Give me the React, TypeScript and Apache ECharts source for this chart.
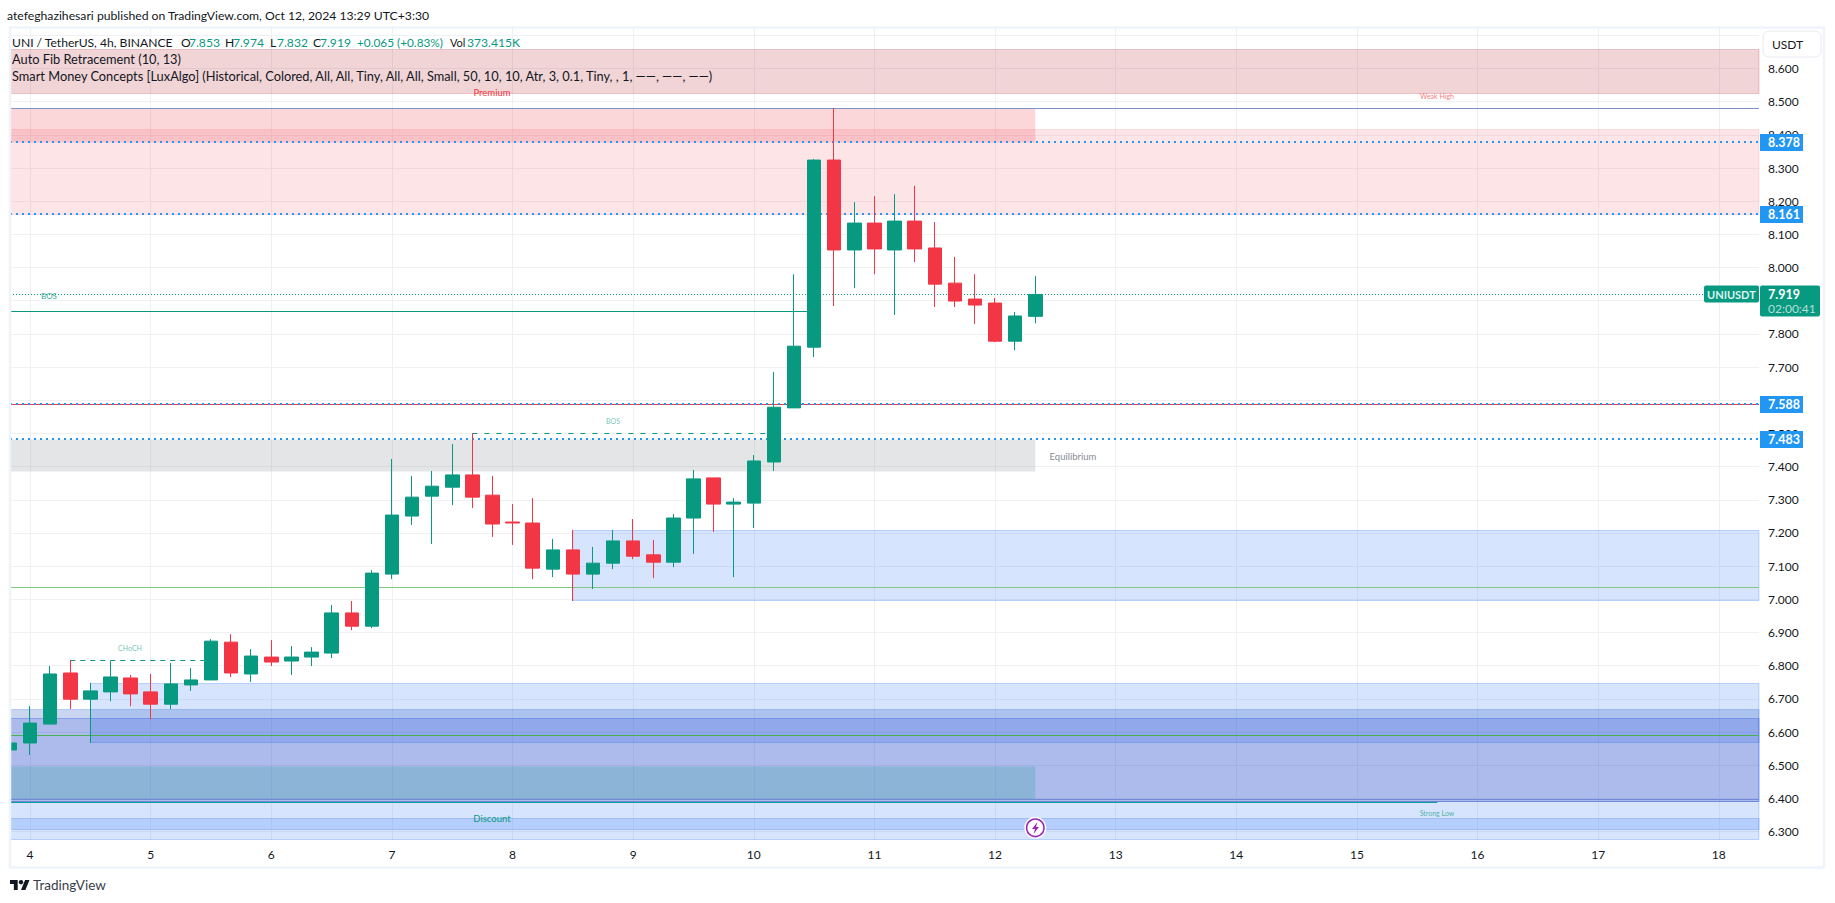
import React, { useEffect, useRef } from "react";
import * as echarts from "echarts";

const dayLabels = ["4", "5", "6", "7", "8", "9", "10", "11", "12", "13", "14", "15", "16", "17", "18"];
const hourLabels = ["04:00", "08:00", "12:00", "16:00", "20:00"];

// open, close, low, high
const candles: number[][] = [
  [6.546, 6.567, 6.475, 6.599],
  [6.567, 6.627, 6.531, 6.678],
  [6.624, 6.775, 6.624, 6.799],
  [6.778, 6.699, 6.669, 6.817],
  [6.699, 6.724, 6.567, 6.748],
  [6.721, 6.766, 6.693, 6.814],
  [6.763, 6.715, 6.678, 6.772],
  [6.721, 6.684, 6.639, 6.775],
  [6.684, 6.745, 6.669, 6.808],
  [6.742, 6.757, 6.724, 6.793],
  [6.757, 6.874, 6.757, 6.88],
  [6.871, 6.778, 6.766, 6.895],
  [6.775, 6.829, 6.751, 6.85],
  [6.826, 6.811, 6.799, 6.877],
  [6.814, 6.826, 6.772, 6.859],
  [6.826, 6.841, 6.799, 6.856],
  [6.838, 6.959, 6.823, 6.983],
  [6.959, 6.919, 6.907, 6.995],
  [6.919, 7.079, 6.913, 7.088],
  [7.076, 7.254, 7.061, 7.423],
  [7.251, 7.308, 7.224, 7.372],
  [7.311, 7.341, 7.167, 7.387],
  [7.338, 7.375, 7.284, 7.468],
  [7.375, 7.308, 7.275, 7.501],
  [7.314, 7.227, 7.188, 7.372],
  [7.233, 7.23, 7.164, 7.287],
  [7.23, 7.094, 7.061, 7.305],
  [7.091, 7.149, 7.067, 7.182],
  [7.149, 7.076, 6.995, 7.209],
  [7.076, 7.109, 7.031, 7.158],
  [7.109, 7.176, 7.091, 7.209],
  [7.176, 7.13, 7.121, 7.242],
  [7.134, 7.112, 7.064, 7.179],
  [7.112, 7.245, 7.097, 7.257],
  [7.245, 7.363, 7.137, 7.39],
  [7.366, 7.287, 7.203, 7.366],
  [7.287, 7.293, 7.067, 7.305],
  [7.29, 7.417, 7.215, 7.435],
  [7.414, 7.579, 7.387, 7.685],
  [7.577, 7.763, 7.577, 7.98],
  [7.76, 8.324, 7.73, 8.327],
  [8.324, 8.053, 7.884, 8.481],
  [8.053, 8.134, 7.938, 8.197],
  [8.134, 8.056, 7.98, 8.215],
  [8.053, 8.14, 7.857, 8.221],
  [8.14, 8.056, 8.017, 8.246],
  [8.059, 7.95, 7.881, 8.137],
  [7.953, 7.899, 7.881, 8.032],
  [7.905, 7.887, 7.83, 7.98],
  [7.893, 7.778, 7.775, 7.908],
  [7.778, 7.854, 7.751, 7.866],
  [7.853, 7.919, 7.832, 7.974],
];

const priceTicks = [6.3, 6.4, 6.5, 6.6, 6.7, 6.8, 6.9, 7.0, 7.1, 7.2, 7.3, 7.4, 7.5, 7.6, 7.7, 7.8, 7.9, 8.0, 8.1, 8.2, 8.3, 8.4, 8.5, 8.6, 8.7];
// 7.600, 7.900 and 8.700 sit fully behind the price tags and the USDT button in the reference
const priceLabels = [6.3, 6.4, 6.5, 6.6, 6.7, 6.8, 6.9, 7.0, 7.1, 7.2, 7.3, 7.4, 7.5, 7.7, 7.8, 8.0, 8.1, 8.2, 8.3, 8.4, 8.5, 8.6];

// start bar, end bar, high price, low price
const premiumZone = [0, 87, 8.658, 8.525];
const weakHighBlock = [0, 51, 8.479, 8.378];
const supplyZone = [0, 87, 8.417, 8.161];
const equilibriumZone = [0, 51, 7.483, 7.385];
const demandBlockA = [28, 87, 7.208, 6.995];
const demandBlockB = [4, 87, 6.747, 6.568];
const discountBlock = [0, 87, 6.668, 6.275];
const greyStrip = [0, 87, 6.668, 6.641];
const navyBlock = [0, 87, 6.641, 6.39];
const tealBlock = [0, 51, 6.495, 6.397];
const lowerBand = [0, 87, 6.34, 6.305];

const fibLevels = [8.378, 8.161, 7.588, 7.483];
const redLevel = 7.587;
const lastPrice = 7.919;
const strongHigh = 8.479;
const greenLevels = [7.036, 6.59];
const navyLevels = [6.397, 6.39];
const bosFirst = [0, 40, 7.869];
const bosSecond = [23, 38, 7.501];
const chochLine = [3, 10, 6.817];
const strongLow = [0, 71, 6.388];

const UP = "#089981";
const DOWN = "#f23645";
const BLUE = "rgba(49,121,245,0.2)";
const BLUE_EDGE = "rgba(49,121,245,0.28)";
const FONT = "Lato, 'Noto Sans', sans-serif";
const Y_MIN = 6.2746;
const Y_MAX = 8.722;
const GRID_TOP = 28;
const GRID_H = 812;
const LEGEND = 12.8;
const OHLC = 12.1;

const categories: string[] = (() => {
  const list = ["3 20:00"];
  dayLabels.forEach((d) => {
    list.push(d);
    hourLabels.forEach((h) => list.push(`${d} ${h}`));
  });
  return list.slice(0, 88);
})();

// keep thin rules crisp: nudge a price to the nearest device-pixel row
const pxPerUnit = GRID_H / (Y_MAX - Y_MIN);
const snap = (v: number) => {
  const py = GRID_TOP + (Y_MAX - v) * pxPerUnit;
  return Y_MAX - (Math.floor(py) + 0.5 - GRID_TOP) / pxPerUnit;
};
const snapEven = (v: number) => {
  const py = GRID_TOP + (Y_MAX - v) * pxPerUnit;
  return Y_MAX - (Math.round(py) - GRID_TOP) / pxPerUnit;
};

const zone = (r: number[], color: string, borderColor?: string) => [
  {
    xAxis: r[0],
    yAxis: snap(r[2]),
    itemStyle: { color, borderColor: borderColor || "transparent", borderWidth: borderColor ? 1 : 0 },
  },
  { xAxis: r[1], yAxis: snap(r[3]) },
];

const seg = (from: number, to: number, y: number, color: string, width: number, type: any) => {
  const yy = width % 2 === 0 ? snapEven(y) : snap(y);
  return [
    { xAxis: from, yAxis: yy, lineStyle: { color, width, type } },
    { xAxis: to, yAxis: yy },
  ];
};

export default function App() {
  const ref = useRef<HTMLDivElement>(null);
  useEffect(() => {
    document.body.style.margin = "0";
    const chart = echarts.init(ref.current!, undefined, { renderer: "svg" });
    const isDay = (_: number, v: string) => !v.includes(":");
    chart.setOption({
      animation: false,
      backgroundColor: "#ffffff",
      textStyle: { fontFamily: FONT },
      grid: { left: 10, top: GRID_TOP, width: 1749, height: GRID_H, containLabel: false },
      xAxis: {
        type: "category",
        data: categories,
        boundaryGap: false,
        axisLine: { show: false },
        axisTick: { show: false },
        axisLabel: { interval: isDay, color: "#131722", fontSize: 12, margin: 8, fontFamily: FONT, hideOverlap: false },
        splitLine: { show: true, interval: isDay, lineStyle: { color: "#eff0f3", width: 1 } },
      },
      yAxis: {
        type: "value",
        position: "right",
        min: Y_MIN,
        max: Y_MAX,
        axisLine: { show: false },
        axisTick: { show: false, customValues: priceTicks },
        axisLabel: {
          customValues: priceLabels,
          color: "#131722",
          fontSize: 12,
          margin: 9,
          fontFamily: FONT,
          formatter: (v: number) => v.toFixed(3),
        },
        splitLine: { show: true, lineStyle: { color: "#f0f1f3", width: 1 } },
      },
      series: [
        {
          type: "candlestick",
          data: candles,
          barWidth: 14,
          clip: true,
          itemStyle: { color: UP, color0: DOWN, borderColor: UP, borderColor0: DOWN, borderWidth: 1 },
          markArea: {
            silent: true,
            z: 1,
            data: [
              zone(premiumZone, "rgba(178,40,51,0.2)", "rgba(178,40,51,0.22)"),
              zone(weakHighBlock, "rgba(242,54,69,0.2)"),
              zone(supplyZone, "rgba(242,54,69,0.13)", "rgba(242,54,69,0.12)"),
              zone(equilibriumZone, "rgba(120,123,134,0.2)"),
              zone(demandBlockA, BLUE, BLUE_EDGE),
              zone(demandBlockB, BLUE, BLUE_EDGE),
              zone(discountBlock, BLUE, BLUE_EDGE),
              zone(greyStrip, "rgba(100,100,120,0.1)"),
              zone(navyBlock, "rgba(5,25,170,0.2)", "rgba(41,82,227,0.35)"),
              zone(tealBlock, "rgba(8,153,129,0.2)"),
              zone(lowerBand, BLUE, BLUE_EDGE),
            ],
          },
          markLine: {
            silent: true,
            z: 1,
            symbol: "none",
            label: { show: false },
            data: [
              seg(0, 87, redLevel, "#f23645", 1, "solid"),
              ...fibLevels.map((l) => seg(0, 87, l, "#2196f3", 2, [2, 4])),
              seg(0, 87, lastPrice, UP, 1, [1, 2]),
              seg(0, 87, strongHigh, "#7f93c8", 1, "solid"),
              ...greenLevels.map((l, i) => seg(0, 87, l, i === 0 ? "#81c784" : "#4caf50", 1, "solid")),
              ...navyLevels.map((l) => seg(0, 87, l, "#7187d8", 1, "solid")),
              seg(bosFirst[0], bosFirst[1], bosFirst[2], UP, 1, "solid"),
              seg(bosSecond[0], bosSecond[1], bosSecond[2], UP, 1, [5, 7]),
              seg(chochLine[0], chochLine[1], chochLine[2], UP, 1, [5, 5]),
              seg(strongLow[0], strongLow[1], strongLow[2], "#0b9c9c", 1, "solid"),
            ],
          },
        },
      ],
    });

    const y = (v: number) => chart.convertToPixel({ yAxisIndex: 0 }, v) as number;
    const txt = (x: number, yy: number, text: string, fill: string, fontSize = 12, extra: any = {}) => ({
      type: "text",
      x,
      y: yy,
      z: 50,
      style: { text, fill, fontSize, fontFamily: FONT, verticalAlign: "middle", align: "left", ...extra },
    });
    const tag = (v: number) => [
      { type: "rect", z: 40, shape: { x: 1760, y: Math.round(y(v)) - 8, width: 43, height: 17 }, style: { fill: "#2196f3" } },
      txt(1768, Math.round(y(v)) + 0.5, v.toFixed(3), "#ffffff", 12.5, { fontWeight: "bold" }),
    ];
    const ly = Math.round(y(lastPrice));
    chart.setOption({
      graphic: [
        { type: "rect", z: 20, shape: { x: 0, y: 28, width: 10, height: 812 }, style: { fill: "#ffffff" } },
        { type: "rect", z: 30, shape: { x: 10, y: 27.5, width: 1814, height: 840 }, style: { fill: "transparent", stroke: "#f0f3fa", lineWidth: 2.5 } },
        txt(7, 15, "atefeghazihesari published on TradingView.com, Oct 12, 2024 13:29 UTC+3:30", "#131722", 12.2),
        txt(12, 42, "UNI / TetherUS, 4h, BINANCE", "#131722", 12.1),
        txt(181, 42, "O", "#131722", OHLC),
        txt(189, 42, "7.853", UP, OHLC),
        txt(225, 42, "H", "#131722", OHLC),
        txt(233, 42, "7.974", UP, OHLC),
        txt(270, 42, "L", "#131722", OHLC),
        txt(277, 42, "7.832", UP, OHLC),
        txt(313, 42, "C", "#131722", OHLC),
        txt(320, 42, "7.919", UP, OHLC),
        txt(357, 42, "+0.065 (+0.83%)", UP, 11.8),
        txt(450, 42, "Vol", "#131722", 11),
        txt(467, 42, "373.415K", UP, OHLC),
        txt(12, 59, "Auto Fib Retracement (10, 13)", "#131722", LEGEND),
        txt(12, 76, "Smart Money Concepts [LuxAlgo] (Historical, Colored, All, All, Tiny, All, All, Small, 50, 10, 10, Atr, 3, 0.1, Tiny, , 1, \u2014\u2014, \u2014\u2014, \u2014\u2014)", "#131722", LEGEND),
        txt(492, 92.5, "Premium", "#f23645", 9.5, { align: "center" }),
        txt(1437, 96, "Weak High", "#f77c80", 7, { align: "center" }),
        txt(49, 296, "BOS", UP, 8, { align: "center", opacity: 0.85 }),
        txt(613, 421, "BOS", UP, 7, { align: "center", opacity: 0.6 }),
        txt(130, 648, "CHoCH", UP, 7, { align: "center", opacity: 0.6 }),
        txt(1073, 456, "Equilibrium", "#878b94", 9.5, { align: "center" }),
        txt(492, 818, "Discount", UP, 9.5, { align: "center" }),
        txt(1437, 813, "Strong Low", UP, 7, { align: "center", opacity: 0.7 }),
        { type: "rect", z: 40, shape: { x: 1763, y: 31, width: 58, height: 26, r: 6 }, style: { fill: "#ffffff", stroke: "#e8eaf2", lineWidth: 1 } },
        txt(1772, 44.5, "USDT", "#131722", 12),
        ...fibLevels.flatMap(tag),
        { type: "rect", z: 40, shape: { x: 1704, y: ly - 8.5, width: 55, height: 17, r: 2 }, style: { fill: UP } },
        txt(1707, ly, "UNIUSDT", "#dff3ef", 11, { fontWeight: "bold" }),
        { type: "rect", z: 40, shape: { x: 1760, y: ly - 8.5, width: 60, height: 31, r: 2 }, style: { fill: UP } },
        txt(1768, ly, "7.919", "#ffffff", 12.5, { fontWeight: "bold" }),
        txt(1768, ly + 14, "02:00:41", "rgba(255,255,255,0.7)", 12),
        { type: "circle", z: 44, shape: { cx: 1035.3, cy: 827.8, r: 11 }, style: { fill: "#ffffff" } },
        { type: "circle", z: 45, shape: { cx: 1035.3, cy: 827.8, r: 8.7 }, style: { fill: "#ffffff", stroke: "#9c27b0", lineWidth: 1.6 } },
        { type: "polygon", z: 46, shape: { points: [[1037.5, 822], [1032, 829], [1035, 829], [1033.5, 834], [1039, 827], [1036, 827]] }, style: { fill: "#9c27b0" } },
        { type: "polygon", z: 50, shape: { points: [[10, 880], [17.7, 880], [17.7, 890], [13.85, 890], [13.85, 883.9], [10, 883.9]] }, style: { fill: "#131722" } },
        { type: "polygon", z: 50, shape: { points: [[25.1, 880], [29.5, 880], [25.4, 890], [21, 890]] }, style: { fill: "#131722" } },
        { type: "circle", z: 50, shape: { cx: 21, cy: 882.2, r: 2.2 }, style: { fill: "#131722" } },
        txt(33, 885, "TradingView", "#3a3e4a", 13.5),
      ],
    });
    return () => chart.dispose();
  }, []);
  return <div ref={ref} style={{ position: "fixed", left: 0, top: 0, width: 1835, height: 903 }} />;
}
